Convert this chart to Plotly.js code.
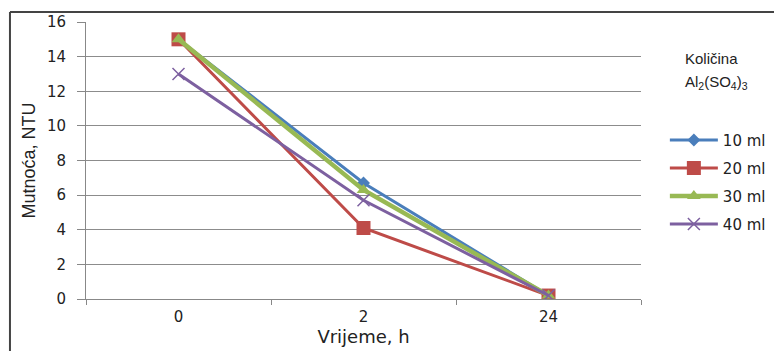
<!DOCTYPE html>
<html>
<head>
<meta charset="utf-8">
<script src="https://cdn.plot.ly/plotly-3.0.1.min.js"></script>
<style>html,body{margin:0;padding:0;background:#fff;}#chart{width:774px;height:351px;}</style>
</head>
<body>
<div id="chart"></div>
<script>
const categories = ["0", "2", "24"];
const seriesNames = ["10 ml", "20 ml", "30 ml", "40 ml"];
const values10 = [15, 6.7, 0.2];
const values20 = [15, 4.1, 0.2];
const values30 = [15, 6.3, 0.2];
const values40 = [13, 5.7, 0.2];
const yTickVals = [0, 2, 4, 6, 8, 10, 12, 14, 16];
const yRange = [0, 16];

const colors = ["#4a7ebb", "#be4b48", "#98b954", "#7d60a0"];
const symbols = ["diamond", "square", "triangle-up", "x-thin"];
const sizes = [10, 14, 12, 12];
const widths = [3, 3, 4.5, 3];
const allValues = [values10, values20, values30, values40];

const traces = allValues.map((v, i) => ({
  x: categories,
  y: v,
  type: "scatter",
  mode: "lines+markers",
  name: seriesNames[i],
  legendgroup: "g" + i,
  line: {color: colors[i], width: widths[i]},
  marker: {color: colors[i], symbol: symbols[i], size: sizes[i],
           line: {color: colors[i], width: i === 3 ? 1.5 : 0}}
}));
// empty helper trace so the label axis (y2) is drawn
traces.push({x: [], y: [], type: "scatter", mode: "lines", yaxis: "y2", showlegend: false, hoverinfo: "skip"});

const layout = {
  width: 774, height: 351,
  margin: {l: 86, r: 133, t: 22, b: 52, autoexpand: false},
  paper_bgcolor: "#ffffff",
  plot_bgcolor: "#ffffff",
  showlegend: true,
  legend: {
    x: 1.043, y: 0.633, xanchor: "left", yanchor: "top",
    font: {family: "DejaVu Sans", size: 15, color: "#222"},
    itemwidth: 48,
    tracegroupgap: 5.5,
    bgcolor: "rgba(0,0,0,0)"
  },
  xaxis: {
    type: "category",
    range: [-0.5, 2.5],
    tickson: "boundaries",
    ticks: "outside", ticklen: 5, tickcolor: "#888",
    showgrid: false, showline: true, linecolor: "#888", linewidth: 1,
    zeroline: false,
    ticklabelstandoff: 4,
    tickfont: {family: "DejaVu Sans", size: 15, color: "#222"},
    title: {text: "Vrijeme, h", font: {family: "DejaVu Sans", size: 18, color: "#222"}, standoff: 4}
  },
  yaxis: {
    range: yRange,
    tickvals: yTickVals,
    showticklabels: false,
    ticks: "outside", ticklen: 8, tickcolor: "#888",
    showgrid: true, gridcolor: "#8c8c8c", gridwidth: 1,
    showline: true, linecolor: "#888", linewidth: 1,
    zeroline: false
  },
  yaxis2: {
    overlaying: "y",
    side: "left",
    range: yRange,
    tickvals: yTickVals,
    ticks: "outside", ticklen: 16, tickcolor: "rgba(0,0,0,0)",
    showgrid: false, showline: false, zeroline: false,
    tickfont: {family: "DejaVu Sans", size: 15, color: "#222"},
    title: {text: "Mutnoća, NTU", font: {family: "Liberation Sans", size: 18, color: "#222"}, standoff: 6}
  },
  annotations: [
    {xref: "paper", yref: "paper", x: 1.075, y: 0.87, xanchor: "left", yanchor: "middle",
     text: "Količina", showarrow: false, font: {family: "Liberation Sans", size: 15, color: "#222"}},
    {xref: "paper", yref: "paper", x: 1.075, y: 0.78, xanchor: "left", yanchor: "middle",
     text: "Al<sub>2</sub>(SO<sub>4</sub>)<sub>3</sub>", showarrow: false, font: {family: "Liberation Sans", size: 15, color: "#222"}}
  ],
  shapes: [
    {type: "line", xref: "paper", yref: "paper", x0: -0.137, x1: 1.3, y0: 1.036, y1: 1.036, line: {color: "#444", width: 2}},
    {type: "line", xref: "paper", yref: "paper", x0: -0.137, x1: -0.137, y0: 1.036, y1: -0.19, line: {color: "#444", width: 2}}
  ]
};

Plotly.newPlot("chart", traces, layout, {displayModeBar: false, staticPlot: true});
</script>
</body>
</html>
